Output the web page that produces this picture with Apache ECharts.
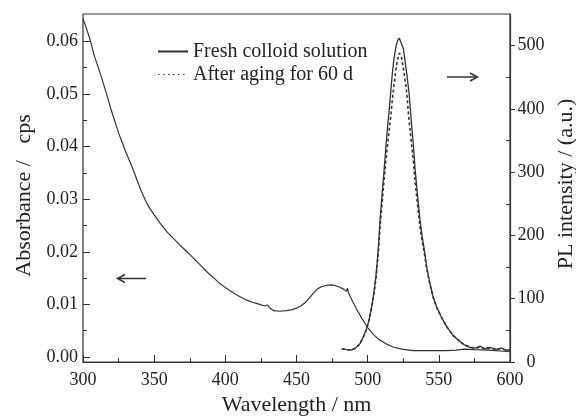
<!DOCTYPE html>
<html>
<head>
<meta charset="utf-8">
<script src="https://cdn.jsdelivr.net/npm/echarts@6/dist/echarts.min.js"></script>
<style>
  html, body { margin: 0; padding: 0; background: #fff; }
  #chart { width: 576px; height: 419px; }
</style>
</head>
<body>
<div id="chart"></div>
<script>
// absorbance spectrum (left axis)
const absWl = [300, 302, 305, 308, 312, 316, 320, 325, 330, 335, 338, 341, 344, 347, 350, 354, 359, 364, 368, 373, 378, 382,
  387, 392, 396, 401, 406, 410, 415, 419, 422, 425, 428, 429.5, 431, 434, 438, 443, 447, 450, 453, 456,
  459, 462, 465, 468, 471, 474, 477, 480, 483, 485, 485.8, 486.5, 489, 492, 496, 500, 504, 508, 513, 518,
  524, 532, 545, 555, 562, 568, 575, 585, 600];
const absVal = [0.0643, 0.0628, 0.0603, 0.0572, 0.0540, 0.0505, 0.0468, 0.0426, 0.0390, 0.0358, 0.0336, 0.0315, 0.0297, 0.0282, 0.0270, 0.0255, 0.0238, 0.0224, 0.0213, 0.0200, 0.0187, 0.0176,
  0.0162, 0.0150, 0.0140, 0.0130, 0.0121, 0.0115, 0.0108, 0.0104, 0.0102, 0.0099, 0.0097, 0.0099, 0.0094, 0.0088, 0.0087, 0.0088, 0.0090, 0.0093, 0.0097, 0.0103,
  0.0112, 0.0122, 0.0130, 0.0134, 0.0136, 0.0137, 0.0136, 0.0133, 0.0129, 0.0125, 0.0131, 0.0122, 0.0108, 0.0092, 0.0073, 0.0056, 0.0043, 0.0033, 0.0025, 0.0019,
  0.0015, 0.0012, 0.0012, 0.0012, 0.0013, 0.0015, 0.0014, 0.0013, 0.0010];

// PL spectra (right axis)
const plWl = [481.8, 485, 488.8, 491.5, 494.6, 497, 499.3, 501, 502.8, 504.5, 506, 507.5, 508.7, 510, 511.5,
  512.9, 514.1, 515.2, 516.2, 517.3, 518.5, 520, 521, 522.2, 523.5, 525, 526, 527.5, 529, 530,
  530.9, 532.1, 533.5, 535, 536.8, 538.2, 539.8, 541.5, 543.8, 546, 548.5, 552, 555.5, 560, 565,
  568, 572, 576, 579, 582, 586, 590, 594, 597, 600];
const plFresh = [21, 19.5, 19, 22, 29, 40, 53, 67, 87, 112, 140, 180, 224, 262, 302,
  343, 374, 400, 427, 455, 480, 500, 508, 512, 510, 496, 480, 455, 427, 400,
  374, 343, 300, 265, 224, 200, 177, 150, 124, 103, 87, 70, 56, 42, 32,
  27, 23, 22, 25, 21, 23, 20, 22, 19, 19];
const plAged = [21, 19.5, 19, 22, 29, 40, 52, 66, 85, 109, 135, 172, 213, 248, 287,
  322, 345, 368, 388, 414, 438, 464, 478, 488, 484, 466, 450, 425, 384, 362,
  343, 318, 282, 250, 213, 192, 172, 147, 122, 102, 86, 70, 56, 42, 32,
  27, 23, 22, 24, 21, 22, 20, 21, 19, 19];

const absTicks = [0, 0.01, 0.02, 0.03, 0.04, 0.05, 0.06];
const absMinor = [0.005, 0.015, 0.025, 0.035, 0.045, 0.055];
const plTicks = [0, 100, 200, 300, 400, 500];
const plMinor = [50, 150, 250, 350, 450];
const seriesNames = ['Fresh colloid solution', 'After aging for 60 d'];

const ink = '#333';
const font = "'Liberation Serif', 'DejaVu Serif', serif";

const pairs = (xs, ys) => xs.map((x, i) => [x, ys[i]]);

const chart = echarts.init(document.getElementById('chart'));
chart.setOption({
  animation: false,
  backgroundColor: '#fff',
  textStyle: { fontFamily: font, color: '#222' },
  grid: [
    { left: 83, right: 66, top: 14, bottom: 57, outerBoundsMode: 'none', containLabel: false,
      show: true, borderColor: ink, borderWidth: 1.2 },
    { left: 83, right: 66, top: 14, bottom: 62, outerBoundsMode: 'none', containLabel: false }
  ],
  legend: {
    orient: 'vertical',
    left: 157,
    top: 41,
    padding: 0,
    itemWidth: 30,
    itemHeight: 12,
    itemGap: 2,
    itemStyle: { opacity: 0 },
    textStyle: { fontFamily: font, fontSize: 20, color: '#222', lineHeight: 21 },
    data: [
      { name: seriesNames[0] },
      { name: seriesNames[1], lineStyle: { type: [1.5, 3.5], width: 1.2 } }
    ]
  },
  xAxis: [
    {
      gridIndex: 0, type: 'value', min: 300, max: 600, interval: 50,
      name: 'Wavelength / nm', nameLocation: 'middle', nameGap: 30,
      nameTextStyle: { fontFamily: font, fontSize: 22, color: '#222' },
      axisLine: { lineStyle: { color: ink, width: 1.2 } },
      axisTick: { inside: true, length: 7, lineStyle: { color: ink } },
      minorTick: { show: true, splitNumber: 2, length: 4, lineStyle: { color: ink } },
      axisLabel: { fontFamily: font, fontSize: 18, color: '#222', margin: 9 },
      splitLine: { show: false }
    },
    { gridIndex: 1, type: 'value', min: 300, max: 600, show: false }
  ],
  yAxis: [
    {
      gridIndex: 0, type: 'value', position: 'right', min: 0, max: 550,
      name: 'PL intensity / (a.u.)', nameLocation: 'middle', nameGap: 38, nameRotate: 90,
      nameTextStyle: { fontFamily: font, fontSize: 22, color: '#222', padding: [0, 0, 0, 8] },
      axisLine: { show: true, lineStyle: { color: ink, width: 1.2 } },
      axisTick: { show: true, inside: false, length: 5, customValues: plTicks, lineStyle: { color: ink } },
      axisLabel: { customValues: plTicks, fontFamily: font, fontSize: 18, color: '#222', align: 'center', margin: 21 },
      splitLine: { show: false }
    },
    {
      gridIndex: 0, type: 'value', position: 'right', min: 0, max: 550,
      axisLine: { show: false },
      axisTick: { show: true, inside: true, length: 4, customValues: plMinor, lineStyle: { color: ink } },
      axisLabel: { show: false },
      splitLine: { show: false }
    },
    {
      gridIndex: 1, type: 'value', position: 'left', min: 0, max: 0.0652,
      name: 'Absorbance /   cps', nameLocation: 'middle', nameGap: 46, nameRotate: 90,
      nameTextStyle: { fontFamily: font, fontSize: 22, color: '#222', padding: [0, 20, 0, 0] },
      axisLine: { show: false },
      axisTick: { show: true, inside: true, length: 7, customValues: absTicks, lineStyle: { color: ink } },
      axisLabel: {
        customValues: absTicks, fontFamily: font, fontSize: 18, color: '#222', margin: 5,
        formatter: v => v.toFixed(2)
      },
      splitLine: { show: false }
    },
    {
      gridIndex: 1, type: 'value', position: 'left', min: 0, max: 0.0652,
      axisLine: { show: false },
      axisTick: { show: true, inside: true, length: 4, customValues: absMinor, lineStyle: { color: ink } },
      axisLabel: { show: false },
      splitLine: { show: false }
    }
  ],
  graphic: [
    // left arrow (absorbance -> left axis)
    { type: 'line', shape: { x1: 146, y1: 278.5, x2: 118, y2: 278.5 }, style: { stroke: ink, lineWidth: 1.5 } },
    { type: 'polyline', shape: { points: [[125, 274.5], [117.5, 278.5], [125, 282.5]] }, style: { stroke: ink, lineWidth: 1.5, fill: null } },
    // right arrow (PL -> right axis)
    { type: 'line', shape: { x1: 447, y1: 77, x2: 477, y2: 77 }, style: { stroke: ink, lineWidth: 1.5 } },
    { type: 'polyline', shape: { points: [[470, 73], [477.5, 77], [470, 81]] }, style: { stroke: ink, lineWidth: 1.5, fill: null } }
  ],
  series: [
    {
      name: 'absorbance', type: 'line', xAxisIndex: 1, yAxisIndex: 2,
      data: pairs(absWl, absVal), symbol: 'none',
      lineStyle: { color: ink, width: 1.2 }, itemStyle: { color: ink }
    },
    {
      name: seriesNames[0], type: 'line', xAxisIndex: 0, yAxisIndex: 0,
      data: pairs(plWl, plFresh), symbol: 'none',
      lineStyle: { color: ink, width: 1.3 }, itemStyle: { color: ink }
    },
    {
      name: seriesNames[1], type: 'line', xAxisIndex: 0, yAxisIndex: 0,
      data: pairs(plWl, plAged), symbol: 'none',
      lineStyle: { color: ink, width: 1.6, type: [3, 2.5] }, itemStyle: { color: ink }
    }
  ]
});
</script>
</body>
</html>
